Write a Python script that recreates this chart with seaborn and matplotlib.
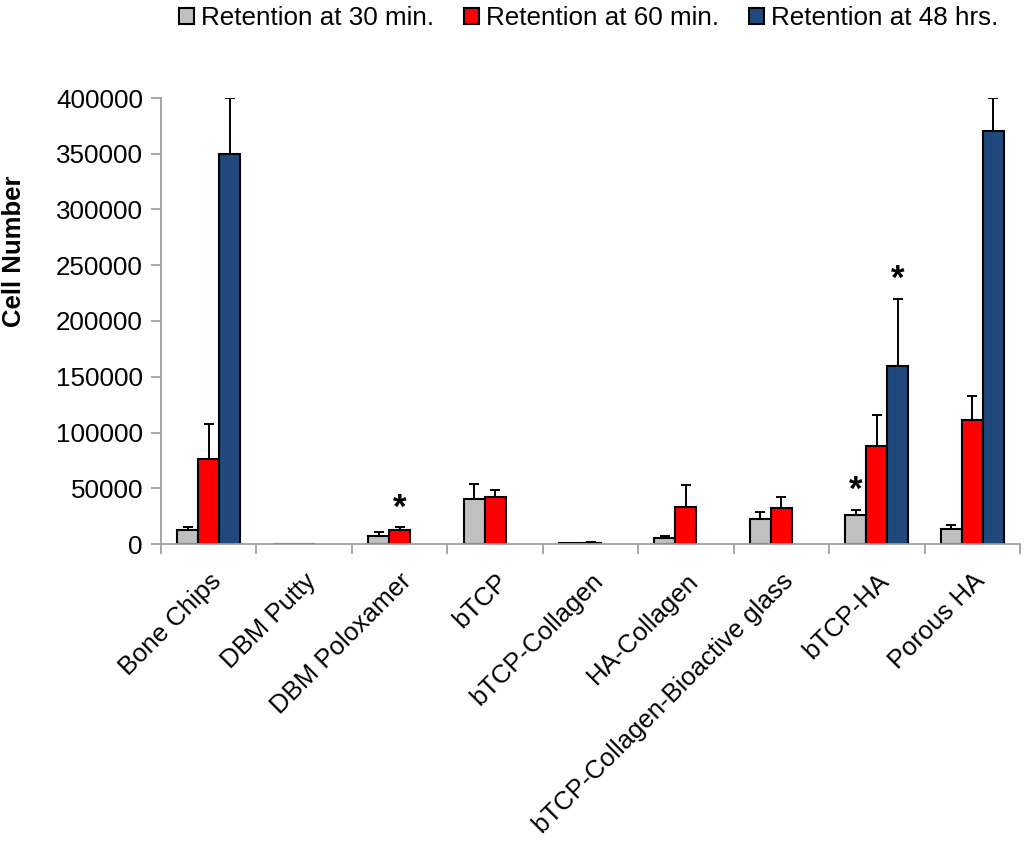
import numpy as np
import pandas as pd
import matplotlib
matplotlib.use("Agg")
import matplotlib.pyplot as plt
import seaborn as sns

categories = ["Bone Chips", "DBM Putty", "DBM Poloxamer", "bTCP", "bTCP-Collagen",
              "HA-Collagen", "bTCP-Collagen-Bioactive glass", "bTCP-HA", "Porous HA"]
series = ["Retention at 30 min.", "Retention at 60 min.", "Retention at 48 hrs."]
ret30 = [13000, 300, 7500, 40400, 700, 5700, 22700, 26000, 13200]
ret30_err = [2500, 0, 3500, 13300, 300, 1500, 6100, 4600, 3600]
ret60 = [76400, 400, 12900, 42000, 1200, 33300, 32400, 87500, 111500]
ret60_err = [31500, 0, 2100, 6500, 500, 19700, 9600, 28500, 21500]
ret48 = [350000, 0, 0, 0, 0, 0, 0, 160000, 370000]
ret48_err = [50000, 0, 0, 0, 0, 0, 0, 60000, 30000]
colors = ["#C0C0C0", "#FF0000", "#1F497D"]
# asterisks: (category index, series index)
stars = [(2, 1), (7, 0), (7, 2)]

sns.set_theme(style="white")
plt.rcParams['font.family'] = ['Liberation Sans', 'DejaVu Sans']
plt.rcParams['text.color'] = 'black'
plt.rcParams['axes.labelcolor'] = 'black'

rows = []
for si, (vals, errs) in enumerate([(ret30, ret30_err), (ret60, ret60_err), (ret48, ret48_err)]):
    for c, v, e in zip(categories, vals, errs):
        rows.append({"cat": c, "series": series[si], "val": v, "err": e})
df = pd.DataFrame(rows)

fig = plt.figure(figsize=(10.24, 8.42), dpi=100)
ax = fig.add_axes([161 / 1024, 1 - 544 / 842, 859 / 1024, 446 / 842])
sns.barplot(data=df, x="cat", y="val", hue="series", order=categories, hue_order=series,
            palette=colors, errorbar=None, width=0.66, edgecolor="black", linewidth=1.5,
            saturation=1, ax=ax)

# error bars and stars
errs_all = [ret30_err, ret60_err, ret48_err]
vals_all = [ret30, ret60, ret48]
containers = list(ax.containers)
for si, cont in enumerate(containers):
    for ci, patch in enumerate(list(cont.patches)):
        h = vals_all[si][ci]
        if h <= 0:
            patch.set_visible(False)
            continue
        xc = patch.get_x() + patch.get_width() / 2
        e = errs_all[si][ci]
        if e > 0:
            ax.errorbar(xc, h, yerr=[[0], [e]], fmt="none", ecolor="black",
                        elinewidth=1.4, capsize=3.6, capthick=1.4, zorder=1)
        if (ci, si) in stars:
            ax.text(xc, h + e + 2500, "*", ha="center", va="bottom", fontsize=25,
                    fontweight="bold", color="black")

ax.set_ylim(0, 400000)
ax.set_xlim(-0.5, len(categories) - 0.5)
ax.set_yticks(np.arange(0, 400001, 50000))
ax.set_yticklabels([str(v) for v in range(0, 400001, 50000)], fontsize=18.7)
ax.set_xticks(range(len(categories)))
ax.set_xticklabels(categories, rotation=45, ha="right", rotation_mode="anchor", fontsize=18.5)
ax.set_xticks(np.arange(-0.5, len(categories), 1.0), minor=True)
ax.tick_params(axis="x", which="major", length=0, pad=18, labelcolor="black")
ax.tick_params(axis="x", which="minor", length=7, color="#A0A0A0", width=1.3, direction="out", bottom=True)
ax.tick_params(axis="y", length=7, color="#A0A0A0", width=1.3, direction="out", left=True,
               labelcolor="black", pad=6)
ax.set_xlabel("")
ax.set_ylabel("Cell Number", fontsize=18.5, fontweight="bold", color="black")
ax.yaxis.set_label_coords(-0.157, 0.656)
for s in ["top", "right"]:
    ax.spines[s].set_visible(False)
for s in ["left", "bottom"]:
    ax.spines[s].set_color("#A0A0A0")
    ax.spines[s].set_linewidth(1.3)

handles, labels = ax.get_legend_handles_labels()
ax.legend_.remove()
fig.legend(handles, labels, loc="center", bbox_to_anchor=(589 / 1024, 1 - 18 / 842), ncol=3,
           frameon=False, fontsize=18.7, handlelength=0.58, handleheight=0.58,
           handletextpad=0.27, columnspacing=1.15, borderpad=0)

fig.savefig("out.png", dpi=100)
